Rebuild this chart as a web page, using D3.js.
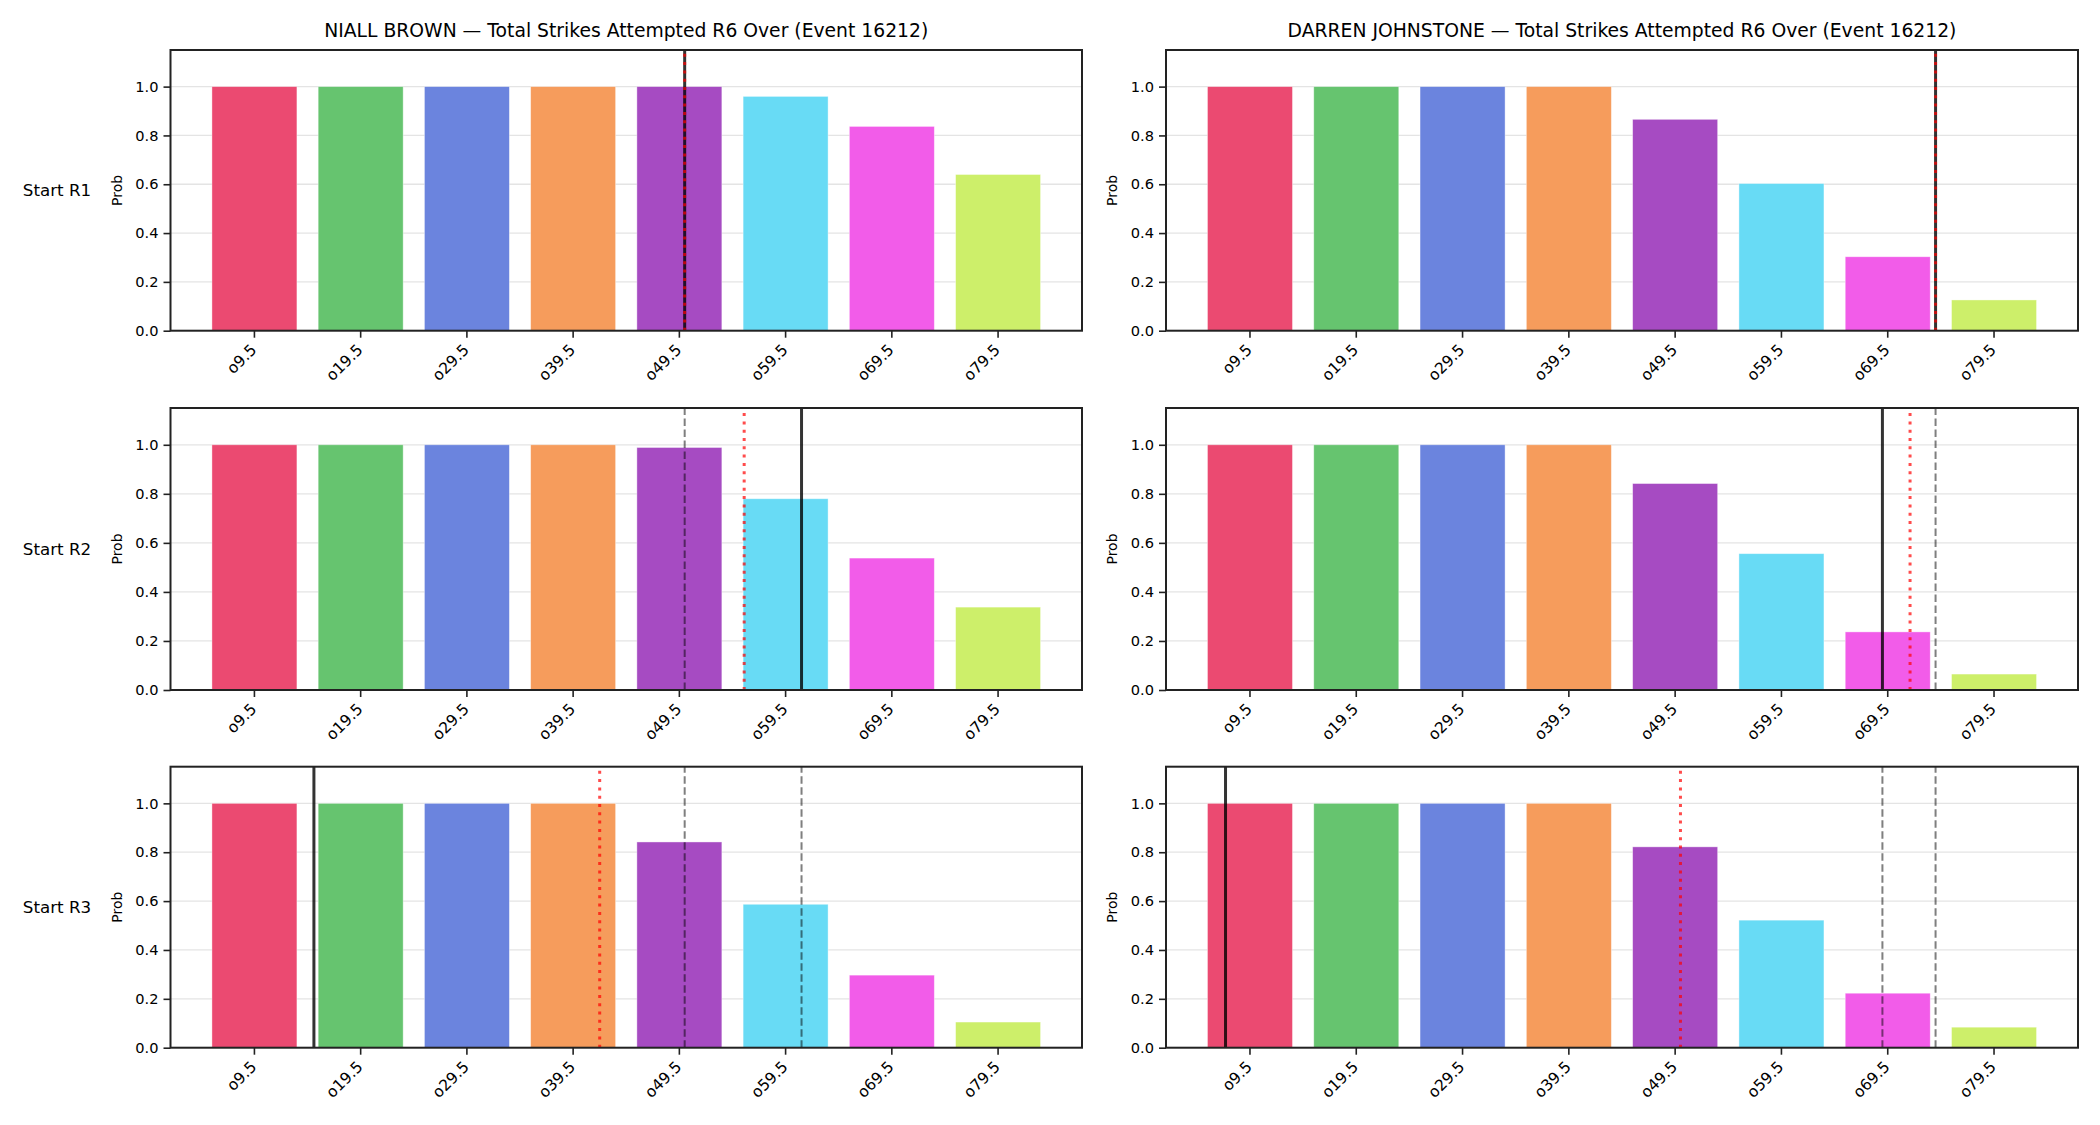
<!DOCTYPE html>
<html><head><meta charset="utf-8">
<script src="https://cdn.jsdelivr.net/npm/d3@7"></script>
<style>
html,body{margin:0;padding:0;background:#fff;}
svg{display:block;font-family:"DejaVu Sans",sans-serif;}
</style></head>
<body>
<svg id="chart" width="2100" height="1125"></svg>
<script>
// ---- data ----
const categories = ["o9.5","o19.5","o29.5","o39.5","o49.5","o59.5","o69.5","o79.5"];
const lineValues = [9.5, 79.5]; // strike values at first/last category
const fighters = ["NIALL BROWN","DARREN JOHNSTONE"];
const rows = ["Start R1","Start R2","Start R3"];
const barColors = ["#EB4A71","#66C46F","#6B84DE","#F69C5C","#A64BC2","#68DBF5","#F25CE9","#CDEF6A"];
const yTicks = [0,0.2,0.4,0.6,0.8,1.0];

const brownR1 = [1,1,1,1,1.000,0.960,0.837,0.640];
const brownR2 = [1,1,1,1,0.989,0.780,0.538,0.338];
const brownR3 = [1,1,1,1,0.842,0.587,0.297,0.105];
const johnR1  = [1,1,1,1,0.866,0.603,0.303,0.126];
const johnR2  = [1,1,1,1,0.842,0.556,0.237,0.065];
const johnR3  = [1,1,1,1,0.822,0.522,0.223,0.084];

// projected total (solid), line (red dotted), previous projections (grey dashed)
const brownProj = [50.0, 61.0, 15.1];
const brownLine = [50.0, 55.6, 42.0];
const johnProj  = [74.0, 69.0, 7.2];
const johnLine  = [74.0, 71.6, 50.0];

const panels = [
  {fighter:0, probs:[brownR1,brownR2,brownR3], proj:brownProj, line:brownLine},
  {fighter:1, probs:[johnR1,johnR2,johnR3],   proj:johnProj,  line:johnLine}
];

// ---- layout ----
const svg = d3.select("#chart");
const colX = [[170.5,1082],[1166,2078]];
const rowY = [[50,330.7],[408,690],[766.7,1047.7]];
const ink = "#222";

panels.forEach((p, ci) => {
  const [L,R] = colX[ci];
  const x = d3.scaleBand().domain(categories).range([L,R]).paddingInner(0.2).paddingOuter(0.39);
  const bw = x.bandwidth();
  const xl = d3.scaleLinear().domain(lineValues)
      .range([x(categories[0])+bw/2, x(categories[categories.length-1])+bw/2]);

  svg.append("text").attr("x",(L+R)/2).attr("y",36.5).attr("text-anchor","middle")
     .attr("font-size",18.75).attr("fill","#000")
     .text(fighters[p.fighter] + " \u2014 Total Strikes Attempted R6 Over (Event 16212)");

  rows.forEach((rname, ri) => {
    const [T,B] = rowY[ri];
    const y = d3.scaleLinear().domain([0,1.15]).range([B,T]);
    const g = svg.append("g");

    // grid
    g.selectAll("line.grid").data(yTicks).join("line")
      .attr("x1",L).attr("x2",R).attr("y1",d=>y(d)).attr("y2",d=>y(d))
      .attr("stroke","#e4e4e4").attr("stroke-width",1.3);

    // bars
    g.selectAll("rect.bar").data(p.probs[ri]).join("rect")
      .attr("x",(d,i)=>x(categories[i])).attr("width",bw)
      .attr("y",d=>y(d)).attr("height",d=>y(0)-y(d))
      .attr("fill",(d,i)=>barColors[i]).attr("stroke","#fff").attr("stroke-opacity",0.5).attr("stroke-width",0.8);

    // previous projections (grey dashed)
    const prev = p.proj.slice(0, ri);
    g.selectAll("line.prev").data(prev).join("line")
      .attr("x1",d=>xl(d)).attr("x2",d=>xl(d)).attr("y1",B).attr("y2",T)
      .attr("stroke","#000").attr("stroke-opacity",0.5).attr("stroke-width",2)
      .attr("stroke-dasharray","7.5,3.5");
    // current projection (solid)
    g.append("line").attr("x1",xl(p.proj[ri])).attr("x2",xl(p.proj[ri])).attr("y1",B).attr("y2",T)
      .attr("stroke","#000").attr("stroke-opacity",0.8).attr("stroke-width",3);
    // line (red dotted)
    g.append("line").attr("x1",xl(p.line[ri])).attr("x2",xl(p.line[ri])).attr("y1",B).attr("y2",T)
      .attr("stroke","#ff0000").attr("stroke-opacity",0.7).attr("stroke-width",3)
      .attr("stroke-dasharray","3,5.3");

    // frame
    g.append("rect").attr("x",L).attr("y",T).attr("width",R-L).attr("height",B-T)
      .attr("fill","none").attr("stroke",ink).attr("stroke-width",2);

    // y axis
    const ya = g.append("g").attr("transform",`translate(${L},0)`)
      .call(d3.axisLeft(y).tickValues(yTicks).tickFormat(d3.format(".1f")).tickSize(7).tickPadding(5));
    ya.select(".domain").remove();
    ya.selectAll(".tick line").attr("stroke",ink).attr("stroke-width",1.6);
    ya.selectAll(".tick text").attr("font-size",14.6).attr("fill","#000").attr("font-family","DejaVu Sans");

    // x axis
    const xa = g.append("g").attr("transform",`translate(0,${B})`)
      .call(d3.axisBottom(x).tickSize(7).tickPadding(0));
    xa.select(".domain").remove();
    xa.selectAll(".tick line").attr("stroke",ink).attr("stroke-width",1.6);
    xa.selectAll(".tick text").attr("font-size",15.5).attr("fill","#000").attr("font-family","DejaVu Sans")
      .attr("text-anchor","end").attr("dy",0)
      .attr("transform","translate(3,20) rotate(-45)").attr("y",0).attr("x",0);

    // y label
    g.append("text").attr("transform",`translate(${L-54},${(T+B)/2}) rotate(-90)`)
      .attr("text-anchor","middle").attr("dominant-baseline","central")
      .attr("font-size",14).attr("fill","#000").text("Prob");

    // row label
    if (ci === 0) {
      svg.append("text").attr("x",57).attr("y",(T+B)/2).attr("text-anchor","middle")
        .attr("dominant-baseline","central").attr("font-size",16.7).attr("fill","#000").text(rname);
    }
  });
});
</script>
</body></html>
